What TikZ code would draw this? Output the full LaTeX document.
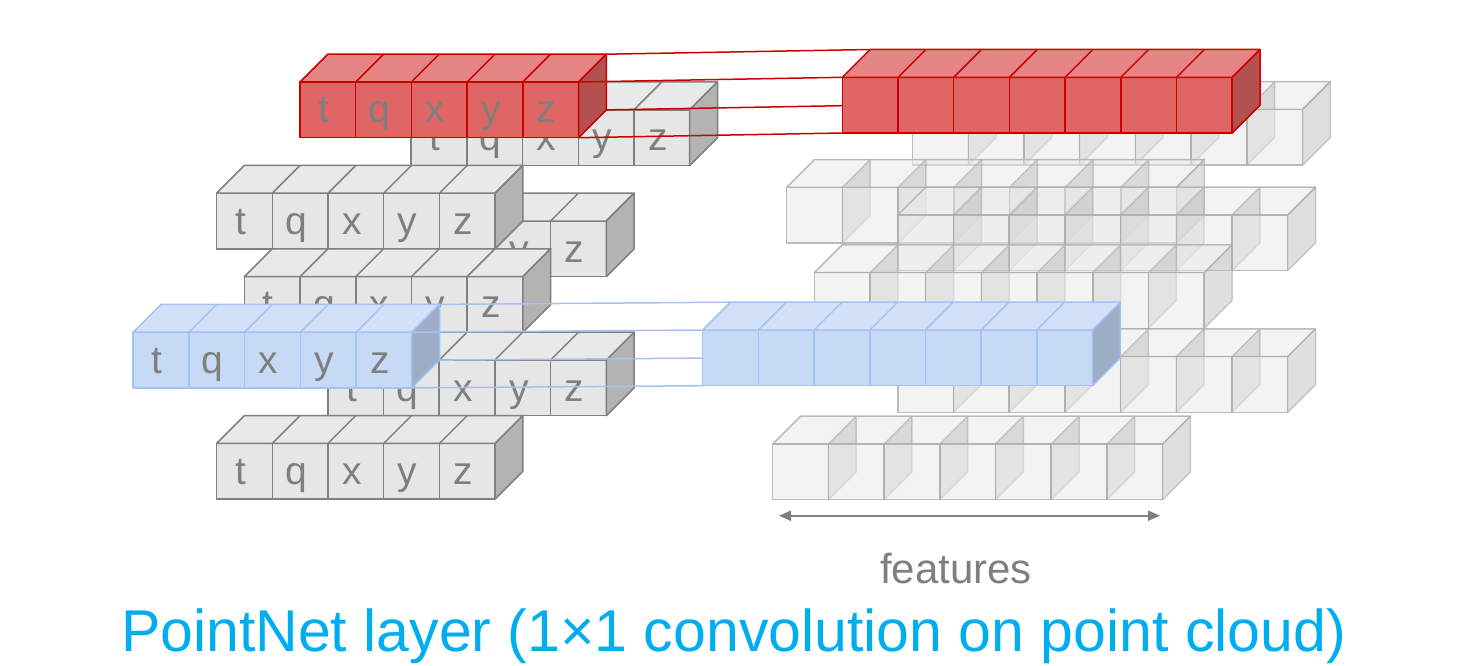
\documentclass[tikz,border=0pt]{standalone}
\usepackage{fontspec}
\setmainfont{Liberation Sans}
\usetikzlibrary{arrows.meta, positioning, calc}

\definecolor{faceGray}{HTML}{E6E6E6}
\definecolor{topGray}{HTML}{E9E9E9}
\definecolor{sideGray}{HTML}{B3B3B3}
\definecolor{edgeGray}{HTML}{808080}
\definecolor{faceRed}{HTML}{E06666}
\definecolor{topRed}{HTML}{E68585}
\definecolor{sideRed}{HTML}{B35050}
\definecolor{edgeRed}{HTML}{CC0000}
\definecolor{faceBlue}{HTML}{C6D9F5}
\definecolor{topBlue}{HTML}{D2E1F8}
\definecolor{sideBlue}{HTML}{9DADC6}
\definecolor{edgeBlue}{HTML}{A4C2F4}
\definecolor{textGray}{HTML}{7F7F7F}
\definecolor{titleCyan}{HTML}{00AEEF}

\begin{document}
\begin{tikzpicture}[
    x=1pt, y=-1pt,
    cellface/.style={fill=face#1, draw=edge#1, line width=1.5pt, line join=round},
    celltop/.style={fill=top#1, draw=edge#1, line width=1.5pt, line join=round},
    cellside/.style={fill=side#1, draw=edge#1, line width=1.5pt, line join=round},
    celledge/.style={draw=edge#1, line width=1.5pt},
    letter/.style={anchor=base, inner sep=0pt, text=textGray, font=\fontsize{39}{39}\selectfont},
    featface/.style={fill=black!9, fill opacity=0.5, draw=black!32, draw opacity=0.8, line width=1.5pt, line join=round},
    featwall/.style={fill=black!25, fill opacity=0.5, draw=black!32, draw opacity=0.6, line width=1.5pt, line join=round},
    link/.style={draw=edge#1, line width=1.5pt},
    sizearrow/.style={{Triangle[length=12pt, width=10pt]}-{Triangle[length=12pt, width=10pt]}, draw=textGray, fill=textGray, line width=2pt}
]
\useasboundingbox (0,0) rectangle (1458,666);

% Input points: rows of t q x y z
\foreach \rx/\ry/\rn/\rc in {411.2/109.8/rowA/Gray, 327.8/221/rowC/Gray, 216.6/193.2/rowB/Gray,
    244.4/276.6/rowD/Gray, 327.8/360/rowE/Gray, 216.6/443.4/rowF/Gray,
    300/82/redL/Red, 133.2/332.2/blueL/Blue} {
  \begin{scope}[shift={(\rx,\ry)}]
    \foreach \l [count=\i from 0] in {t,q,x,y,z} {
      \draw[cellface=\rc] (\i*55.7,0) rectangle ++(55.7,55.7);
      \node[letter] (\rn-\l) at ({(\i+0.5)*55.7-4},41) {\l};
    }
    \draw[celltop=\rc] (0,0) -- (27.8,-27.8) -- (306.3,-27.8) -- (278.5,0) -- cycle;
    \foreach \i in {1,...,4}
      \draw[celledge=\rc] (\i*55.7,0) -- ++(27.8,-27.8);
    \draw[cellside=\rc] (278.5,0) -- (306.3,-27.8) -- (306.3,27.9) -- (278.5,55.7) -- cycle;
    \coordinate (\rn-ftr) at (278.5,0);
    \coordinate (\rn-btr) at (306.3,-27.8);
    \coordinate (\rn-fbr) at (278.5,55.7);
    \coordinate (\rn-bbr) at (306.3,27.9);
  \end{scope}
}

% Output features: see-through rows
\foreach \rx/\ry/\rn in {912.6/109.5/featA, 786.7/187.3/featB, 897.8/215/featC,
    814.3/272.7/featD, 897.8/356.7/featE, 772.7/444/featF} {
  \begin{scope}[shift={(\rx,\ry)}]
    \draw[featface] (0,0) -- (27.8,-27.8) -- (417.7,-27.8) -- (389.9,0) -- cycle;
    \foreach \i in {1,...,7}
      \draw[featwall] (\i*55.7,0) -- ++(27.8,-27.8) -- ++(0,55.7) -- ++(-27.8,27.8) -- cycle;
    \foreach \i in {0,...,6}
      \draw[featface] (\i*55.7,0) rectangle ++(55.7,55.7);
  \end{scope}
}

% Corners of the highlighted feature rows
\foreach \rx/\ry/\rn in {842.3/77.3/redR, 702.7/330/blueR} {
  \begin{scope}[shift={(\rx,\ry)}]
    \coordinate (\rn-ftl) at (0,0);
    \coordinate (\rn-btl) at (27.8,-27.8);
    \coordinate (\rn-fbl) at (0,55.7);
    \coordinate (\rn-bbl) at (27.8,27.9);
  \end{scope}
}

% 1x1 convolution links
\foreach \a/\b in {btr/btl, ftr/ftl, bbr/bbl, fbr/fbl} {
  \draw[link=Red] (redL-\a) -- (redR-\b);
  \draw[link=Blue] (blueL-\a) -- (blueR-\b);
}

% Highlighted feature rows
\foreach \rn/\rc in {redR/Red, blueR/Blue} {
  \begin{scope}[shift={(\rn-ftl)}]
    \foreach \i in {0,...,6}
      \draw[cellface=\rc] (\i*55.7,0) rectangle ++(55.7,55.7);
    \draw[celltop=\rc] (0,0) -- (27.8,-27.8) -- (417.7,-27.8) -- (389.9,0) -- cycle;
    \foreach \i in {1,...,6}
      \draw[celledge=\rc] (\i*55.7,0) -- ++(27.8,-27.8);
    \draw[cellside=\rc] (389.9,0) -- (417.7,-27.8) -- (417.7,27.9) -- (389.9,55.7) -- cycle;
  \end{scope}
}

% Feature axis
\coordinate (featL) at (779,515.7);
\coordinate (featR) at (1160,515.7);
\draw[sizearrow] (featL) -- (featR);
\node[anchor=base, text=textGray, font=\fontsize{42}{42}\selectfont] (featlabel) at (956,583) {features};

% Caption
\node[anchor=base, text=titleCyan, font=\fontsize{59}{59}\selectfont] (title) at (733.5,651) {PointNet layer (1×1 convolution on point cloud)};

\end{tikzpicture}
\end{document}
